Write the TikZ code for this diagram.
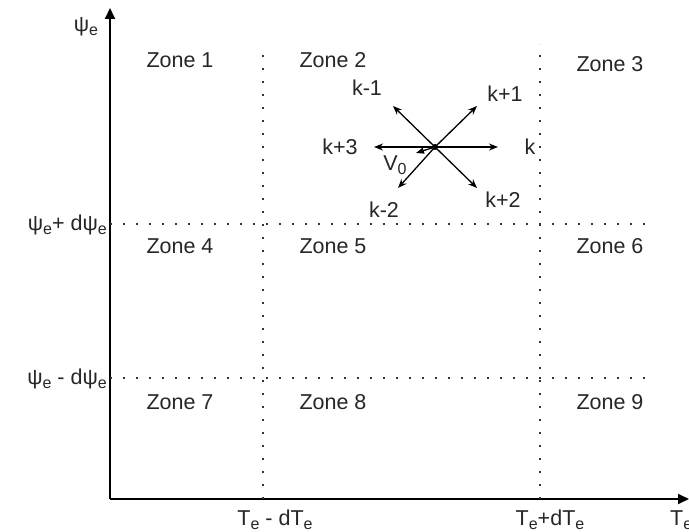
\documentclass[tikz,border=0pt]{standalone}
\usepackage{fontspec}
\setmainfont{Liberation Sans}
\usetikzlibrary{arrows.meta}
\newcommand\mysub[1]{\raisebox{-0.35ex}{\fontsize{16}{18}\selectfont #1}}
\begin{document}
\begin{tikzpicture}[x=1pt,y=-1pt,
  every node/.style={font=\fontsize{21.5}{25}\selectfont, inner sep=0pt, text=black!85},
  axis/.style={line width=2pt, -{Triangle[length=11pt,width=10pt]}},
  dotline/.style={line width=2.4pt, dash pattern=on 2.4pt off 10.6pt, color=black!80},
  vec/.style={line width=1.3pt, -{Stealth[length=9pt,width=7pt]}}]
\useasboundingbox (0,0) rectangle (689,532);
% axes
\coordinate (O) at (110,499);
\coordinate (ytip) at (110,8);
\coordinate (xtip) at (689,499);
\draw[axis] (O) -- (ytip);
\draw[axis] (O) -- (xtip);
% dotted grid
\coordinate (v1t) at (263,45);
\coordinate (v1b) at (263,499);
\coordinate (v2t) at (540,44);
\coordinate (v2b) at (540,499);
\coordinate (h1l) at (110,224);
\coordinate (h1r) at (650,224);
\coordinate (h2l) at (110,378);
\coordinate (h2r) at (650,378);
\draw[dotline] (v1b) -- (v1t);
\draw[dotline] (v2b) -- (v2t);
\draw[dotline] (h1l) -- (h1r);
\draw[dotline] (h2l) -- (h2r);
% axis labels
\node (lpsi) at (86,27) {ψ\mysub{e}};
\node[anchor=east] (lpsip) at (107,225) {ψ\mysub{e}+ dψ\mysub{e}};
\node[anchor=east] (lpsim) at (107,379) {ψ\mysub{e} - dψ\mysub{e}};
\node (lTm) at (275,520) {T\mysub{e} - dT\mysub{e}};
\node (lTp) at (550,520) {T\mysub{e}+dT\mysub{e}};
\node[anchor=west] (lT) at (670,520) {T\mysub{e}};
% zones
\node (z1) at (180,60) {Zone 1};
\node (z2) at (333,60) {Zone 2};
\node (z3) at (610,64) {Zone 3};
\node (z4) at (180,246) {Zone 4};
\node (z5) at (333,246) {Zone 5};
\node (z6) at (610,246) {Zone 6};
\node (z7) at (180,402) {Zone 7};
\node (z8) at (333,402) {Zone 8};
\node (z9) at (610,402) {Zone 9};
% voltage vectors
\node[circle, fill=black, minimum size=6pt] (C) at (435,147) {};
\coordinate (ek) at (498,147);
\coordinate (ek3) at (374,147);
\coordinate (ekm1) at (393,106);
\coordinate (ekp1) at (477,106);
\coordinate (ekp2) at (477,188);
\coordinate (ekm2) at (398,188);
\coordinate (ev0) at (416,153);
\draw[vec] (C.center) -- (ek);
\draw[vec] (C.center) -- (ek3);
\draw[vec] (C.center) -- (ekm1);
\draw[vec] (C.center) -- (ekp1);
\draw[vec] (C.center) -- (ekp2);
\draw[vec] (C.center) -- (ekm2);
\draw[line width=1.3pt, -{Triangle[length=8pt,width=6pt]}] (C.center) -- (ev0);
\node (lk) at (530,147) {k};
\node (lk3) at (340,147) {k+3};
\node (lkm1) at (367,88) {k-1};
\node (lkp1) at (505,94) {k+1};
\node (lkp2) at (503,200) {k+2};
\node (lkm2) at (384,210) {k-2};
\node (lv0) at (395,165) {V\mysub{0}};
\end{tikzpicture}
\end{document}
